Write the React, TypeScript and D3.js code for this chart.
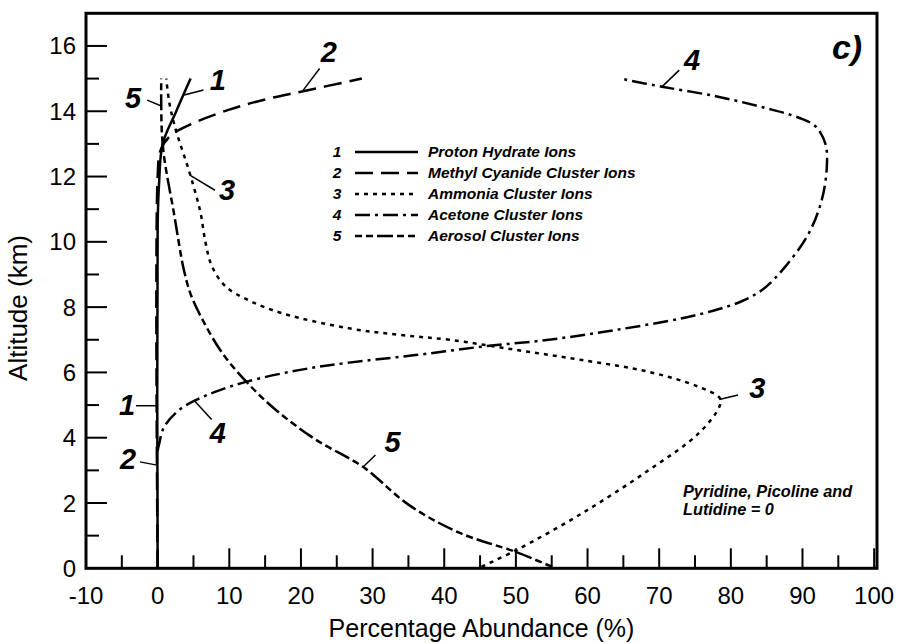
import React from "react";
import * as d3 from "d3";

// ---- data (x = percentage abundance, y = altitude km) ----
const protonHydrate: [number, number][] = [
  [0, 0], [0, 10.5], [0.2, 11.8], [0.7, 13.0], [2.6, 14.0], [4.6, 15.0],
];
const methylCyanide: [number, number][] = [
  [0, 0], [0, 12.0], [0.4, 12.8], [1.8, 13.25], [4.6, 13.6], [10, 14.05],
  [15, 14.36], [20, 14.6], [28.5, 15.0],
];
const ammonia: [number, number][] = [
  [45.2, 0.05], [50, 0.55], [59.2, 1.68], [68.5, 3.0], [75.5, 4.13], [78.4, 4.95],
  [78.5, 5.2], [75.5, 5.56], [68.5, 6.02], [59.2, 6.38], [50, 6.69], [40.7, 7.0],
  [33.7, 7.15], [26.7, 7.35], [17.4, 7.81], [12.8, 8.2], [9.5, 8.63], [7.6, 9.24],
  [6.7, 9.96], [6.0, 10.88], [5.4, 11.4], [4.2, 12.3], [3.0, 13.1], [2.2, 13.7],
  [1.6, 14.3], [1.2, 15.0],
];
const acetone: [number, number][] = [
  [0, 3.6], [0.2, 3.8], [0.9, 4.33], [3.0, 4.85], [5.3, 5.15], [8.1, 5.41],
  [12.3, 5.71], [19.7, 6.07], [26.7, 6.3], [36, 6.53], [45.3, 6.79], [54.6, 7.0],
  [63.9, 7.3], [73.2, 7.66], [78, 7.92], [81.5, 8.18], [84.5, 8.55], [87.6, 9.24],
  [90.9, 10.27], [92.7, 11.29], [93.4, 12.31], [93.2, 13.0], [91.8, 13.54],
  [89.5, 13.8], [84.8, 14.1], [77.9, 14.46], [70.4, 14.75], [64.6, 15.0],
];
const aerosol: [number, number][] = [
  [55, 0.05], [50, 0.5], [42, 1.1], [35, 1.95], [28.7, 3.1], [22, 3.95],
  [16.5, 4.85], [12.4, 5.71], [9, 6.6], [6.3, 7.6], [4.6, 8.4], [3.6, 9.2],
  [2.9, 10.05], [2.2, 10.97], [1.5, 11.8], [0.9, 12.6], [0.6, 13.3], [0.5, 14.2],
  [0.5, 15.0],
];

const seriesNames = [
  "Proton Hydrate Ions",
  "Methyl Cyanide Cluster Ions",
  "Ammonia Cluster Ions",
  "Acetone Cluster Ions",
  "Aerosol Cluster Ions",
];
const seriesData = [protonHydrate, methylCyanide, ammonia, acetone, aerosol];
const seriesDash = ["none", "18,8", "4,5", "15,5,3,5", "7,4,7,4,16,4"];

const xTickMajor = [-10, 0, 10, 20, 30, 40, 50, 60, 70, 80, 90, 100];
const xTickMinor = [-5, 5, 15, 25, 35, 45, 55, 65, 75, 85, 95];
const yTickMajor = [0, 2, 4, 6, 8, 10, 12, 14, 16];
const yTickMinor = [1, 3, 5, 7, 9, 11, 13, 15];

// curve labels: text, label position, leader from -> to (data units)
const curveLabels: { t: string; x: number; y: number; l: [number, number, number, number] }[] = [
  { t: "1", x: 8.4, y: 14.64, l: [3.7, 14.5, 6.4, 14.65] },
  { t: "2", x: 23.9, y: 15.51, l: [20.3, 14.64, 22.6, 15.31] },
  { t: "5", x: -3.44, y: 14.09, l: [-1.45, 14.34, 0.5, 14.16] },
  { t: "3", x: 9.7, y: 11.28, l: [4.5, 12.04, 8.0, 11.58] },
  { t: "4", x: 74.6, y: 15.26, l: [70.3, 14.73, 72.8, 15.26] },
  { t: "1", x: -4.28, y: 4.69, l: [-3.03, 4.98, -0.1, 4.98] },
  { t: "2", x: -4.14, y: 3.04, l: [-2.47, 3.26, -0.1, 3.16] },
  { t: "4", x: 8.41, y: 3.84, l: [5.2, 5.12, 7.53, 4.56] },
  { t: "5", x: 32.8, y: 3.56, l: [28.7, 3.11, 30.4, 3.47] },
  { t: "3", x: 83.7, y: 5.21, l: [78.4, 5.17, 81.0, 5.31] },
];

const noteLines = ["Pyridine, Picoline and", "Lutidine = 0"];

const W = 898;
const H = 643;
const left = 86, right = 877, top = 13.3, bottom = 568.3;

export default function App() {
  const x = d3.scaleLinear().domain([-10, 100.4]).range([left, right]);
  const y = d3.scaleLinear().domain([0, 17]).range([bottom, top]);
  const line = d3
    .line<[number, number]>()
    .x((d) => x(d[0]))
    .y((d) => y(d[1]))
    .curve(d3.curveCatmullRom.alpha(0.5));

  const font = "'Liberation Sans', Arial, Helvetica, sans-serif";

  return (
    <svg
      width={W}
      height={H}
      style={{ position: "absolute", left: 0, top: 0, background: "#fff" }}
      fontFamily={font}
    >
      <rect x={0} y={0} width={W} height={H} fill="#fff" />
      {/* curves */}
      {seriesData.map((d, i) => (
        <path
          key={i}
          d={line(d) || ""}
          fill="none"
          stroke="#000"
          strokeWidth={2.5}
          strokeDasharray={seriesDash[i]}
        />
      ))}
      {/* frame */}
      <rect
        x={left}
        y={top}
        width={right - left}
        height={bottom - top}
        fill="none"
        stroke="#000"
        strokeWidth={3}
      />
      {/* x ticks */}
      {xTickMajor.filter((v) => v > -10).map((v) => (
        <line key={"xM" + v} x1={x(v)} x2={x(v)} y1={bottom} y2={bottom - 20} stroke="#000" strokeWidth={2} />
      ))}
      {xTickMinor.map((v) => (
        <line key={"xm" + v} x1={x(v)} x2={x(v)} y1={bottom} y2={bottom - 13} stroke="#000" strokeWidth={2} />
      ))}
      {xTickMajor.map((v) => (
        <text key={"xl" + v} x={x(v)} y={604} textAnchor="middle" fontSize={24}>
          {v}
        </text>
      ))}
      {/* y ticks */}
      {yTickMajor.filter((v) => v > 0).map((v) => (
        <line key={"yM" + v} x1={left} x2={left + 21} y1={y(v)} y2={y(v)} stroke="#000" strokeWidth={2} />
      ))}
      {yTickMinor.map((v) => (
        <line key={"ym" + v} x1={left} x2={left + 13} y1={y(v)} y2={y(v)} stroke="#000" strokeWidth={2} />
      ))}
      {yTickMajor.map((v) => (
        <text key={"yl" + v} x={76} y={y(v) + 8.5} textAnchor="end" fontSize={24}>
          {v}
        </text>
      ))}
      {/* axis titles */}
      <text x={(left + right) / 2} y={637} textAnchor="middle" fontSize={25}>
        Percentage Abundance (%)
      </text>
      <text
        transform={`translate(27, 308) rotate(-90)`}
        textAnchor="middle"
        fontSize={26}
      >
        Altitude (km)
      </text>
      {/* panel label */}
      <text x={847} y={59} textAnchor="middle" fontSize={34} fontWeight="bold" fontStyle="italic">
        c)
      </text>
      {/* curve labels */}
      {curveLabels.map((c, i) => (
        <g key={"cl" + i}>
          <line
            x1={x(c.l[0])}
            y1={y(c.l[1])}
            x2={x(c.l[2])}
            y2={y(c.l[3])}
            stroke="#000"
            strokeWidth={1.5}
          />
          <text x={x(c.x)} y={y(c.y)} textAnchor="middle" fontSize={29} fontWeight="bold" fontStyle="italic">
            {c.t}
          </text>
        </g>
      ))}
      {/* legend */}
      {seriesNames.map((n, i) => {
        const by = 157 + i * 21;
        return (
          <g key={"lg" + i}>
            <text x={337} y={by} textAnchor="middle" fontSize={15.5} fontWeight="bold" fontStyle="italic">
              {i + 1}
            </text>
            <line
              x1={355}
              x2={418}
              y1={by - 5}
              y2={by - 5}
              stroke="#000"
              strokeWidth={2.5}
              strokeDasharray={seriesDash[i]}
            />
            <text x={428} y={by} fontSize={15.5} fontWeight="bold" fontStyle="italic">
              {n}
            </text>
          </g>
        );
      })}
      {/* note */}
      {noteLines.map((t, i) => (
        <text key={"nt" + i} x={683} y={497 + i * 18} fontSize={16.3} fontWeight="bold" fontStyle="italic">
          {t}
        </text>
      ))}
    </svg>
  );
}
